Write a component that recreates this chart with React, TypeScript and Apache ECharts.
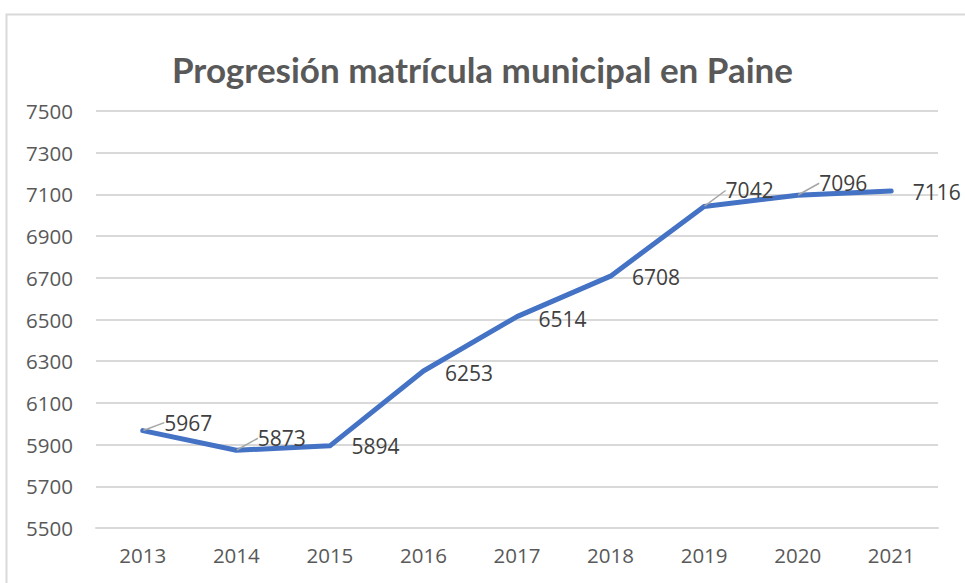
import React, { useEffect, useRef } from "react";
import * as echarts from "echarts";

const title = "Progresión matrícula municipal en Paine";
const years = ["2013", "2014", "2015", "2016", "2017", "2018", "2019", "2020", "2021"];
const enrollment = [5967, 5873, 5894, 6253, 6514, 6708, 7042, 7096, 7116];
const labelShiftY = [-8, -12, 0, 2, 2, 1, -16, -12, 1];
const leaderLine = [true, true, false, false, false, false, true, true, false];

export default function App() {
  const ref = useRef<HTMLDivElement>(null);
  useEffect(() => {
    if (!ref.current) return;
    const chart = echarts.init(ref.current, null, { renderer: "svg" });
    const font = "'Open Sans', sans-serif";
    chart.setOption({
      animation: false,
      backgroundColor: "#ffffff",
      textStyle: { fontFamily: font },
      title: {
        text: title,
        left: "center",
        top: 46,
        textStyle: { fontFamily: "Lato, sans-serif", fontSize: 35, fontWeight: "bold", color: "#595959" },
      },
      graphic: [
        {
          type: "rect",
          left: 4,
          top: 12,
          shape: { width: 1000, height: 600 },
          style: { fill: "none", stroke: "#d9d9d9", lineWidth: 2 },
          silent: true,
        },
      ],
      grid: { left: 96, right: 27, top: 111, bottom: 55 },
      xAxis: {
        type: "category",
        data: years,
        boundaryGap: true,
        axisLine: { show: true, lineStyle: { color: "#d9d9d9", width: 2 } },
        axisTick: { show: false },
        axisLabel: { color: "#595959", fontSize: 20.5, margin: 16, fontFamily: font },
      },
      yAxis: {
        type: "value",
        min: 5500,
        max: 7500,
        interval: 200,
        axisLine: { show: false },
        axisTick: { show: false },
        splitLine: { lineStyle: { color: "#d9d9d9", width: 2 } },
        axisLabel: {
          color: "#595959",
          fontSize: 20.5,
          margin: 23,
          fontFamily: font,
          formatter: (v: number) => String(v),
        },
      },
      series: [
        {
          type: "line",
          data: enrollment.map((v, i) => ({
            value: v,
            labelLine: { show: leaderLine[i] },
          })),
          symbol: "circle",
          symbolSize: 1,
          showSymbol: true,
          lineStyle: { color: "#4472C4", width: 5, cap: "round", join: "round" },
          itemStyle: { color: "#4472C4" },
          label: {
            show: true,
            position: "right",
            distance: 21,
            color: "#404040",
            fontSize: 21,
            fontFamily: font,
          },
          labelLine: { show: false, lineStyle: { color: "#a6a6a6", width: 1.5 } },
          labelLayout: (params: any) => ({ dy: labelShiftY[params.dataIndex] }),
        },
      ],
    });
    return () => chart.dispose();
  }, []);
  return (
    <div
      ref={ref}
      style={{ position: "fixed", left: 0, top: 0, width: 965, height: 583 }}
    />
  );
}
